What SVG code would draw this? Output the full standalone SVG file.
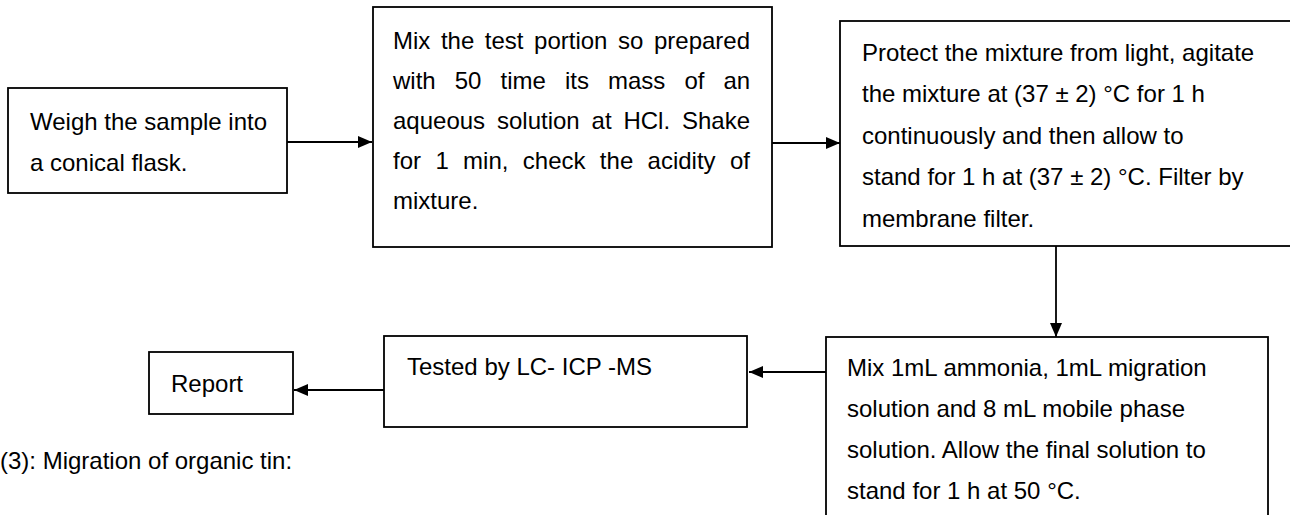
<svg xmlns="http://www.w3.org/2000/svg" width="1290" height="515" viewBox="0 0 1290 515">
<style>
.box{fill:#fff;stroke:#000;stroke-width:1.8}
.t{font-family:"Liberation Sans",Arial,sans-serif;font-size:24px;fill:#000}
.c{fill:none;stroke:#000;stroke-width:1.8}
</style>
<defs>
<marker id="ah" markerWidth="14" markerHeight="12" refX="14" refY="6" orient="auto" markerUnits="userSpaceOnUse">
<path d="M0,0 L14,6 L0,12 Z" fill="#000"/>
</marker>
</defs>
<rect width="1290" height="515" fill="#fff"/>
<g id="connectors">
<line class="c" x1="287" y1="142" x2="372" y2="142" marker-end="url(#ah)"/>
<line class="c" x1="772" y1="143" x2="840" y2="143" marker-end="url(#ah)"/>
<line class="c" x1="1056" y1="246" x2="1056" y2="337" marker-end="url(#ah)"/>
<line class="c" x1="826" y1="372" x2="749" y2="372" marker-end="url(#ah)"/>
<line class="c" x1="384" y1="390" x2="294" y2="390" marker-end="url(#ah)"/>
</g>
<g id="n1">
<rect class="box" x="8" y="88" width="279" height="105"/>
<text class="t" x="30" y="130">Weigh the sample into</text>
<text class="t" x="30" y="171">a conical flask.</text>
</g>
<g id="n2">
<rect class="box" x="373" y="7" width="399" height="240"/>
<text class="t" x="393" y="49" word-spacing="3.9">Mix the test portion so prepared</text>
<text class="t" x="393" y="89" word-spacing="12.4">with 50 time its mass of an</text>
<text class="t" x="393" y="129" word-spacing="5.2">aqueous solution at HCl. Shake</text>
<text class="t" x="393" y="169" word-spacing="7.7">for 1 min, check the acidity of</text>
<text class="t" x="393" y="209">mixture.</text>
</g>
<g id="n3">
<rect class="box" x="840" y="21" width="470" height="225"/>
<text class="t" x="862" y="61">Protect the mixture from light, agitate</text>
<text class="t" x="862" y="102">the mixture at (37 ± 2) °C for 1 h</text>
<text class="t" x="862" y="144">continuously and then allow to</text>
<text class="t" x="862" y="185">stand for 1 h at (37 ± 2) °C. Filter by</text>
<text class="t" x="862" y="227">membrane filter.</text>
</g>
<g id="n4">
<rect class="box" x="826" y="337" width="442" height="200"/>
<text class="t" x="847" y="376">Mix 1mL ammonia, 1mL migration</text>
<text class="t" x="847" y="417">solution and 8 mL mobile phase</text>
<text class="t" x="847" y="458">solution. Allow the final solution to</text>
<text class="t" x="847" y="499">stand for 1 h at 50 °C.</text>
</g>
<g id="n5">
<rect class="box" x="384" y="336" width="363" height="91"/>
<text class="t" x="407" y="375">Tested by LC- ICP -MS</text>
</g>
<g id="n6">
<rect class="box" x="149" y="352" width="144" height="62"/>
<text class="t" x="171" y="392">Report</text>
</g>
<text class="t" x="0" y="469">(3): Migration of organic tin:</text>
</svg>
